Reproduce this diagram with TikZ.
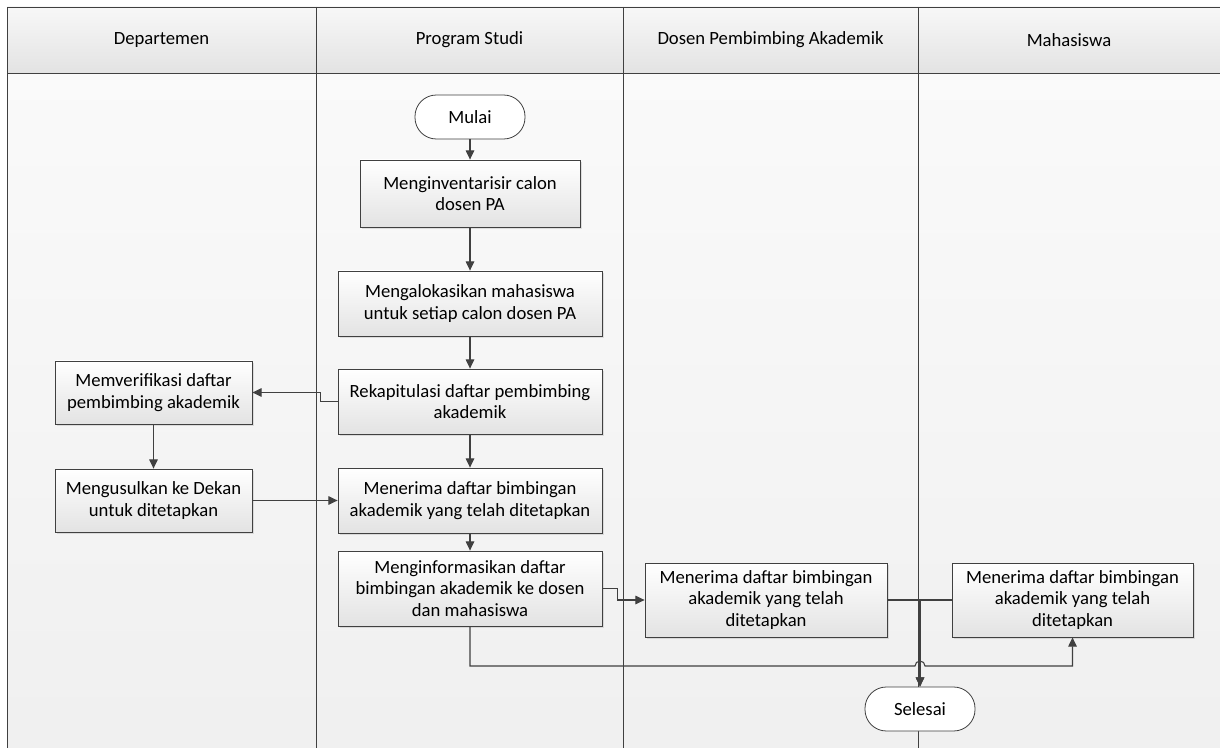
\documentclass[tikz,border=0pt]{standalone}
\usepackage{fontspec}
\setmainfont{Carlito}
\usetikzlibrary{arrows.meta,shadows}
\definecolor{linegray}{HTML}{404040}
\begin{document}
\begin{tikzpicture}[x=0.75pt,y=-0.75pt,
  font=\fontsize{14}{16.3}\selectfont,
  lane/.style={draw=linegray, line width=0.6pt},
  box/.style={rectangle, draw=linegray, line width=0.6pt, top color=white, bottom color=black!11,
    align=center, inner sep=0pt, drop shadow={opacity=0.22, shadow xshift=1.5pt, shadow yshift=-1.5pt}},
  term/.style={rectangle, rounded corners=16pt, draw=linegray, line width=0.6pt, fill=white,
    minimum width=82.5pt, minimum height=33pt, inner sep=0pt},
  arr/.style={draw=linegray, line width=0.8pt, -{Triangle[length=7pt,width=6.5pt]}},
  con/.style={draw=linegray, line width=0.8pt}]
\useasboundingbox (0,0) rectangle (1220,748);
\shade[top color=black!2, bottom color=black!6] (7,73) rectangle (1222,750);
\shade[top color=black!3, bottom color=black!11] (7,7) rectangle (1222,73);
\draw[lane] (7,750) -- (7,7) -- (1222,7);
\draw[lane] (7,73) -- (1222,73);
\draw[lane] (316,7) -- (316,750);
\draw[lane] (623,7) -- (623,750);
\draw[lane] (918,7) -- (918,750);
\node (hdep) at (161.5,40){Departemen};
\node (hps) at (469.5,40){Program Studi};
\node (hdpa) at (770.5,40){Dosen Pembimbing Akademik};
\node (hmhs) at (1069,40){Mahasiswa};
\node[term] (mulai) at (470,117){Mulai};
\node[box, minimum width=165pt, minimum height=50.25pt] (inv) at (470,193.5){Menginventarisir calon\\dosen PA};
\node[box, minimum width=198pt, minimum height=48.75pt] (alok) at (470,303.5){Mengalokasikan mahasiswa\\untuk setiap calon dosen PA};
\node[box, minimum width=198pt, minimum height=48.75pt] (rekap) at (470,401.5){Rekapitulasi daftar pembimbing\\akademik};
\node[box, minimum width=198pt, minimum height=48.75pt] (terima) at (470,500.5){Menerima daftar bimbingan\\akademik yang telah ditetapkan};
\node[box, minimum width=198pt, minimum height=56.25pt] (info) at (470,588.5){Menginformasikan daftar\\bimbingan akademik ke dosen\\dan mahasiswa};
\node[box, minimum width=147.75pt, minimum height=47.25pt] (verif) at (153.5,392.5){Memverifikasi daftar\\pembimbing akademik};
\node[box, minimum width=147.75pt, minimum height=47.25pt] (usul) at (153.5,500.5){Mengusulkan ke Dekan\\untuk ditetapkan};
\node[box, minimum width=181.5pt, minimum height=55.5pt] (dpa) at (766,600){Menerima daftar bimbingan\\akademik yang telah\\ditetapkan};
\node[box, minimum width=180.75pt, minimum height=55.5pt] (mhs) at (1072.5,600){Menerima daftar bimbingan\\akademik yang telah\\ditetapkan};
\node[term] (selesai) at (920,709){Selesai};
\draw[arr] (mulai) -- (inv);
\draw[arr] (inv) -- (alok);
\draw[arr] (alok) -- (rekap);
\draw[arr] (rekap) -- (terima);
\draw[arr] (terima) -- (info);
\draw[arr] (rekap.west) -- ++(-17,0) |- (verif.east);
\draw[arr] (verif) -- (usul);
\draw[arr] (usul.east) -- (terima.west);
\draw[arr] (info.east) -- ++(15,0) |- (dpa.west);
\draw[arr] (dpa.east) -| (selesai.north);
\draw[arr] (mhs.west) -| (selesai.north);
\draw[arr] (info.south) |- (915,666) arc[start angle=180, end angle=0, radius=3.75pt] -| (mhs.south);
\end{tikzpicture}
\end{document}
